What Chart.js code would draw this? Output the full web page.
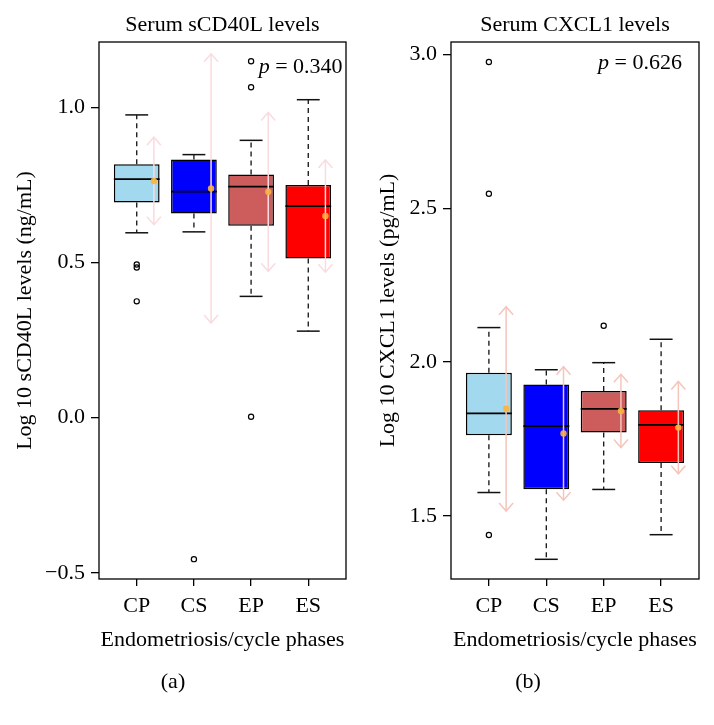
<!DOCTYPE html>
<html lang="en">
<head>
  <meta charset="UTF-8" />
  <title>Serum sCD40L and CXCL1 levels</title>
  <script src="https://cdn.jsdelivr.net/npm/chart.js"></script>
  <style>
    body { margin: 0; background: #fff; }
    .wrap { position: relative; width: 714px; height: 725px; }
    canvas { position: absolute; top: 0; }
    #chartA { left: 0; }
    #chartB { left: 357px; }
  </style>
</head>
<body>
  <div class="wrap">
    <canvas id="chartA" width="357" height="725"></canvas>
    <canvas id="chartB" width="357" height="725"></canvas>
  </div>

  <script>
    const phases = ["CP", "CS", "EP", "ES"];
    const boxColors = ["#a3d9ef", "#0000ff", "#cd5c5c", "#ff0000"];

    // (a) log10 sCD40L, ng/mL
    const cd40Q1 = [0.694, 0.658, 0.619, 0.513];
    const cd40Median = [0.769, 0.729, 0.745, 0.682];
    const cd40Q3 = [0.817, 0.832, 0.784, 0.750];
    const cd40WhiskLo = [0.596, 0.599, 0.391, 0.279];
    const cd40WhiskHi = [0.976, 0.848, 0.894, 1.025];
    const cd40Mean = [0.763, 0.739, 0.728, 0.650];
    const cd40Sd = [0.141, 0.434, 0.256, 0.181];
    const cd40Outliers = [[0.494, 0.484, 0.375], [-0.456], [1.149, 1.065, 0.003], []];
    const cd40Ticks = [-0.5, 0, 0.5, 1.0];
    const cd40TickLabels = ["\u22120.5", "0.0", "0.5", "1.0"];

    // (b) log10 CXCL1, pg/mL
    const cxQ1 = [1.762, 1.587, 1.771, 1.672];
    const cxMedian = [1.833, 1.792, 1.848, 1.796];
    const cxQ3 = [1.965, 1.927, 1.906, 1.843];
    const cxWhiskLo = [1.576, 1.359, 1.586, 1.439];
    const cxWhiskHi = [2.112, 1.975, 1.998, 2.074];
    const cxMean = [1.848, 1.768, 1.841, 1.787];
    const cxSd = [0.332, 0.217, 0.119, 0.150];
    const cxOutliers = [[2.975, 2.547, 1.438], [], [2.118], []];
    const cxTicks = [1.5, 2.0, 2.5, 3.0];
    const cxTickLabels = ["1.5", "2.0", "2.5", "3.0"];

    const FONT = '"Liberation Serif", "Times New Roman", serif';
    const FS = 22;
    const MEAN_SHIFT = 0.3;

    Chart.defaults.font.family = FONT;
    Chart.defaults.font.size = FS;
    Chart.defaults.color = "#000";

    // whiskers, caps, medians and mean +/- SD arrows, drawn on the chart's own scales
    function boxDecor(s) {
      return {
        id: "boxDecor",
        afterDatasetDraw(chart, args) {
          if (args.index !== 0) return;
          const xs = chart.scales.x, ys = chart.scales.y, ctx = chart.ctx;
          const seg = (x1, y1, x2, y2) => {
            ctx.beginPath(); ctx.moveTo(x1, y1); ctx.lineTo(x2, y2); ctx.stroke();
          };
          ctx.save();
          s.q1.forEach((_, i) => {
            const cx = xs.getPixelForValue(i + 1);
            const capL = xs.getPixelForValue(i + 0.8), capR = xs.getPixelForValue(i + 1.2);
            const medL = xs.getPixelForValue(i + 0.6), medR = xs.getPixelForValue(i + 1.4);

            ctx.strokeStyle = "#111";
            ctx.lineWidth = 1.3;
            ctx.setLineDash([5, 4]);
            seg(cx, ys.getPixelForValue(s.q3[i]), cx, ys.getPixelForValue(s.hi[i]));
            seg(cx, ys.getPixelForValue(s.q1[i]), cx, ys.getPixelForValue(s.lo[i]));
            ctx.setLineDash([]);
            ctx.lineWidth = 1.5;
            seg(capL, ys.getPixelForValue(s.hi[i]), capR, ys.getPixelForValue(s.hi[i]));
            seg(capL, ys.getPixelForValue(s.lo[i]), capR, ys.getPixelForValue(s.lo[i]));
            ctx.strokeStyle = "#000";
            ctx.lineWidth = 1.8;
            seg(medL, ys.getPixelForValue(s.median[i]), medR, ys.getPixelForValue(s.median[i]));

            // mean +/- SD double arrow
            const ax = xs.getPixelForValue(i + 1 + MEAN_SHIFT);
            const top = ys.getPixelForValue(s.mean[i] + s.sd[i]);
            const bot = ys.getPixelForValue(s.mean[i] - s.sd[i]);
            ctx.strokeStyle = s.arrowColor;
            ctx.lineWidth = 1.5;
            seg(ax, top, ax, bot);
            ctx.beginPath();
            ctx.moveTo(ax - 7, top + 8); ctx.lineTo(ax, top); ctx.lineTo(ax + 7, top + 8);
            ctx.moveTo(ax - 7, bot - 8); ctx.lineTo(ax, bot); ctx.lineTo(ax + 7, bot - 8);
            ctx.stroke();
          });
          ctx.restore();
        },
        afterDraw(chart) {
          const a = chart.chartArea, ctx = chart.ctx;
          const xs = chart.scales.x, ys = chart.scales.y;
          ctx.save();
          ctx.strokeStyle = "#000";
          ctx.lineWidth = 1.3;
          ctx.strokeRect(a.left, a.top, a.right - a.left, a.bottom - a.top);

          // p value, right aligned
          const rest = " = " + s.pValue;
          const right = xs.getPixelForValue(s.pAt[0]);
          const py = ys.getPixelForValue(s.pAt[1]);
          ctx.fillStyle = "#000";
          ctx.textBaseline = "middle";
          ctx.font = FS + "px " + FONT;
          const wRest = ctx.measureText(rest).width;
          ctx.textAlign = "right";
          ctx.fillText(rest, right, py);
          ctx.font = "italic " + FS + "px " + FONT;
          ctx.fillText("p", right - wRest, py);
          ctx.restore();
        }
      };
    }

    function makeChart(id, s, lay) {
      const boxData = phases.map((p, i) => ({ x: i + 1, y: [s.q1[i], s.q3[i]] }));
      const outData = s.outliers.flatMap((list, i) => list.map(v => ({ x: i + 1, y: v })));
      const meanData = s.mean.map((v, i) => ({ x: i + 1 + MEAN_SHIFT, y: v }));

      return new Chart(document.getElementById(id), {
        type: "bar",
        data: {
          datasets: [
            {
              data: boxData,
              backgroundColor: boxColors,
              borderColor: "#000",
              borderWidth: 1.5,
              borderSkipped: false,
              categoryPercentage: 1,
              barPercentage: 0.8,
              order: 3
            },
            {
              type: "scatter",
              data: outData,
              pointStyle: "circle",
              pointRadius: 2.6,
              pointBorderWidth: 1.2,
              pointBorderColor: "#000",
              pointBackgroundColor: "rgba(0,0,0,0)",
              order: 1
            },
            {
              type: "scatter",
              data: meanData,
              pointRadius: 3.2,
              pointBorderWidth: 0,
              pointBackgroundColor: "rgba(252, 178, 62, 0.9)",
              order: 0
            }
          ]
        },
        options: {
          responsive: false,
          animation: false,
          layout: { padding: { left: 0, right: lay.padRight, top: 0, bottom: 0 } },
          plugins: {
            legend: { display: false },
            tooltip: { enabled: false },
            subtitle: {
              display: true,
              position: "bottom",
              text: lay.tag,
              font: { size: FS },
              color: "#000",
              padding: { top: 9.8, bottom: 29.8 }
            }
          },
          scales: {
            x: {
              type: "linear",
              position: "bottom",
              min: 0.34,
              max: 4.66,
              offset: false,
              afterBuildTicks: sc => { sc.ticks = phases.map((p, i) => ({ value: i + 1 })); },
              afterFit: sc => { sc.height = 80; },
              ticks: {
                callback: (v, i) => phases[i],
                autoSkip: false,
                maxRotation: 0,
                padding: 7,
                font: { size: FS }
              },
              grid: { display: true, offset: false, drawOnChartArea: false, drawTicks: true, tickLength: 7, color: "#000", lineWidth: 1.3 },
              border: { display: false },
              title: { display: true, text: "Endometriosis/cycle phases", font: { size: FS }, padding: { top: 2, bottom: 5.8 } }
            },
            x2: {
              type: "linear",
              position: "top",
              ticks: { display: false },
              grid: { display: false },
              border: { display: false },
              afterFit: sc => { sc.height = 42; },
              title: { display: true, text: lay.title, font: { size: FS }, padding: { top: 11.8, bottom: 0 } }
            },
            y: {
              type: "linear",
              min: lay.yMin,
              max: lay.yMax,
              beginAtZero: false,
              afterBuildTicks: sc => { sc.ticks = s.ticks.map(v => ({ value: v })); },
              afterFit: sc => { sc.width = lay.yWidth; },
              ticks: {
                callback: (v, i) => s.tickLabels[i],
                autoSkip: false,
                padding: 6,
                font: { size: FS }
              },
              grid: { display: true, drawOnChartArea: false, drawTicks: true, tickLength: 8, color: "#000", lineWidth: 1.3 },
              border: { display: false },
              title: { display: true, text: lay.yTitle, font: { size: FS }, padding: { top: lay.yTitlePad, bottom: 0 } }
            }
          }
        },
        plugins: [boxDecor(s)]
      });
    }

    makeChart("chartA", {
      q1: cd40Q1, median: cd40Median, q3: cd40Q3, lo: cd40WhiskLo, hi: cd40WhiskHi,
      mean: cd40Mean, sd: cd40Sd, outliers: cd40Outliers,
      ticks: cd40Ticks, tickLabels: cd40TickLabels,
      pValue: "0.340", pAt: [4.6, 1.131], arrowColor: "#f9dbe0"
    }, {
      title: "Serum sCD40L levels", yTitle: "Log 10 sCD40L levels (ng/mL)", tag: "(a)",
      yMin: -0.52, yMax: 1.211, yWidth: 99, padRight: 11, yTitlePad: 11.8
    });

    makeChart("chartB", {
      q1: cxQ1, median: cxMedian, q3: cxQ3, lo: cxWhiskLo, hi: cxWhiskHi,
      mean: cxMean, sd: cxSd, outliers: cxOutliers,
      ticks: cxTicks, tickLabels: cxTickLabels,
      pValue: "0.626", pAt: [4.363, 2.971], arrowColor: "#f5c5bb"
    }, {
      title: "Serum CXCL1 levels", yTitle: "Log 10 CXCL1 levels (pg/mL)", tag: "(b)",
      yMin: 1.295, yMax: 3.04, yWidth: 94, padRight: 15, yTitlePad: 17.8
    });
  </script>
</body>
</html>
